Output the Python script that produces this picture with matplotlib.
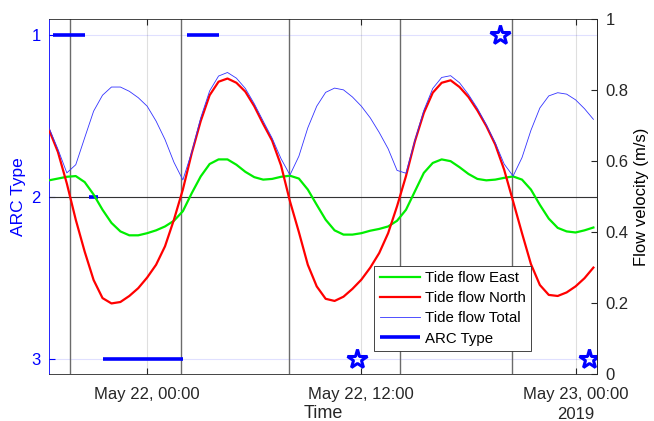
import matplotlib
matplotlib.use("Agg")
import matplotlib.pyplot as plt
import matplotlib.transforms as mtransforms
import pandas as pd

plt.rcParams['font.family'] = ['Liberation Sans', 'DejaVu Sans']

# half-hourly tide flow, plotted values (m/s)
start = pd.Timestamp('2019-05-21 18:30')
east = [.546, .551, .556, .558, .541, .506, .463, .426, .402, .391, .391, .397, .405,
        .416, .432, .459, .510, .557, .592, .605, .605, .590, .570, .555, .548,
        .550, .556, .559, .551, .520, .477, .435, .405, .393, .393, .397, .404, .409,
        .416, .432, .463, .515, .567, .595, .605, .600, .583, .564, .550, .546,
        .548, .553, .557, .548, .520, .477, .438, .412, .402, .399, .405, .413]
north = [.689, .626, .537, .435, .345, .265, .214, .199, .203, .220, .242, .272, .308,
         .360, .435, .520, .623, .713, .786, .824, .833, .821, .796, .755, .705,
         .658, .588, .487, .400, .308, .247, .212, .206, .218, .240, .266, .300, .341,
         .397, .473, .558, .656, .736, .793, .821, .828, .809, .781, .743, .699,
         .647, .576, .487, .397, .310, .251, .223, .220, .230, .247, .270, .300]
total = [.694, .634, .567, .590, .666, .741, .786, .809, .809, .797, .779, .755, .713,
         .661, .597, .547, .626, .722, .798, .840, .850, .834, .805, .762, .713,
         .665, .607, .561, .614, .694, .755, .794, .806, .801, .781, .755, .722, .681,
         .635, .574, .566, .659, .743, .805, .836, .841, .821, .788, .749, .703,
         .652, .592, .558, .610, .687, .750, .784, .793, .789, .773, .748, .718]
times = pd.date_range(start, periods=len(east), freq='30min')

# ARC type periods
arc_start = ['2019-05-21 18:45', '2019-05-21 20:45', '2019-05-21 21:30', '2019-05-22 02:15']
arc_end = ['2019-05-21 20:30', '2019-05-21 21:15', '2019-05-22 02:00', '2019-05-22 04:00']
arc_level = [1, 2, 3, 1]
star_times = ['2019-05-22 11:45', '2019-05-22 19:45', '2019-05-23 00:45']
star_level = [3, 1, 3]

# slack water markers
slack_times = ['2019-05-21 19:39', '2019-05-22 01:54', '2019-05-22 07:57',
               '2019-05-22 14:11', '2019-05-22 20:25']

tick_times = ['2019-05-22 00:00', '2019-05-22 12:00', '2019-05-23 00:00']
tick_labels = ['May 22, 00:00', 'May 22, 12:00', 'May 23, 00:00']

dark = '#262626'
fig = plt.figure(figsize=(6.54, 4.21), dpi=100)
ax = fig.add_axes([0.0749, 0.1116, 0.8379, 0.8426])
ax2 = ax.twinx()

for t in slack_times:
    ax.axvline(pd.Timestamp(t), color='0.42', lw=1.0, zorder=1)
ax.axhline(2, color='0.2', lw=0.8, zorder=1)

arc_handle = None
for s, e, lv in zip(arc_start, arc_end, arc_level):
    arc_handle, = ax.plot([pd.Timestamp(s), pd.Timestamp(e)], [lv, lv],
                          color='blue', lw=2.6, solid_capstyle='butt', zorder=3)
ax.plot(pd.to_datetime(star_times), star_level, ls='none', marker='*', ms=15,
        mfc='none', mec='blue', mew=2.2, zorder=3)

h1, = ax2.plot(times, east, color='#00ee00', lw=1.6, label='Tide flow East')
h2, = ax2.plot(times, north, color='red', lw=1.6, label='Tide flow North')
h3, = ax2.plot(times, total, color='#3333ff', lw=0.6, label='Tide flow Total')

ax.set_xlim(pd.Timestamp('2019-05-21 18:30'), pd.Timestamp('2019-05-23 01:12'))
ax.set_ylim(3.09, 0.905)
ax2.set_ylim(0, 1)

ax.set_xticks(pd.to_datetime(tick_times))
ax.set_xticklabels(tick_labels)
ax.set_yticks([1, 2, 3])
ax2.set_yticks([0, 0.2, 0.4, 0.6, 0.8, 1])
ax2.set_yticklabels(['0', '0.2', '0.4', '0.6', '0.8', '1'])

ax.tick_params(axis='x', direction='in', top=True, length=4, labelsize=12,
               colors=dark, pad=9)
ax.tick_params(axis='y', direction='in', length=4, labelsize=12, colors='blue', pad=6)
ax2.tick_params(axis='y', direction='in', length=4, labelsize=12, colors=dark, pad=6)

ax.grid(axis='x', color='0.5', alpha=0.25, lw=0.8)
ax.grid(axis='y', color='blue', alpha=0.12, lw=0.8)
ax.set_axisbelow(True)

for sp in ['top', 'right', 'bottom']:
    ax.spines[sp].set_color(dark)
    ax.spines[sp].set_linewidth(0.6)
ax.spines['left'].set_color('blue')
ax.spines['left'].set_linewidth(0.6)
ax2.spines['left'].set_visible(False)
ax2.spines['top'].set_visible(False)
ax2.spines['bottom'].set_visible(False)
ax2.spines['right'].set_color(dark)
ax2.spines['right'].set_linewidth(0.6)

ax.set_ylabel('ARC Type', color='blue', fontsize=12.5)
ax.yaxis.set_label_coords(-0.042, 0.5)
ax2.set_ylabel('Flow velocity (m/s)', color='black', fontsize=12, labelpad=4)
ax.set_xlabel('Time', color=dark, fontsize=13)
ax.xaxis.set_label_coords(0.5, -0.088)

trans = mtransforms.blended_transform_factory(ax.transData, ax.transAxes)
ax.text(pd.Timestamp(tick_times[-1]), -0.093, '2019', transform=trans,
        ha='center', va='top', fontsize=12, color=dark)

leg = ax2.legend([h1, h2, h3, arc_handle],
                 ['Tide flow East', 'Tide flow North', 'Tide flow Total', 'ARC Type'],
                 loc='lower left', bbox_to_anchor=(0.594, 0.065), fontsize=10.8,
                 fancybox=False, framealpha=1, edgecolor=dark, handlelength=2.7,
                 labelspacing=0.42, borderpad=0.35, handletextpad=0.3, borderaxespad=0)
leg.get_frame().set_linewidth(0.6)

fig.savefig('out.png', dpi=100)
